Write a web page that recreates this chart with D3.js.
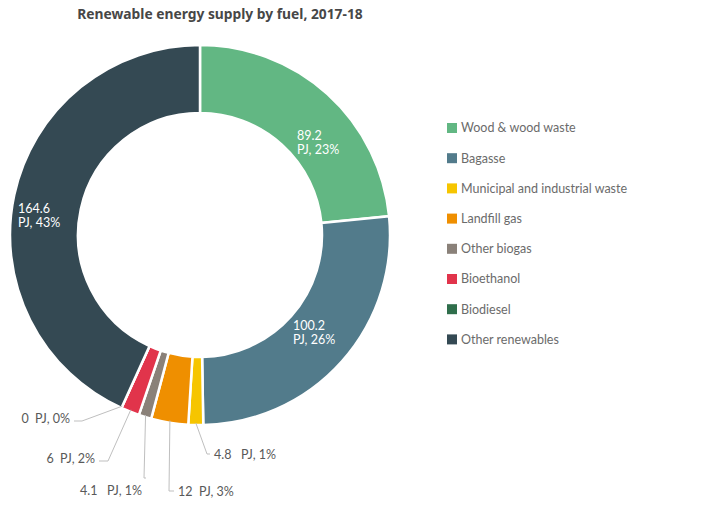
<!DOCTYPE html>
<html>
<head>
<meta charset="utf-8">
<script src="https://cdn.jsdelivr.net/npm/d3@7"></script>
<style>
  body { margin: 0; background: #fff; }
  text { white-space: pre; }
</style>
</head>
<body>
<div id="chart"></div>
<script>
const fuels = ["Wood & wood waste", "Bagasse", "Municipal and industrial waste", "Landfill gas",
  "Other biogas", "Bioethanol", "Biodiesel", "Other renewables"];
const supplyPJ = [89.2, 100.2, 4.8, 12, 4.1, 6, 0, 164.6];
const fuelColors = ["#62b783", "#527b8b", "#f6c500", "#ef8f00", "#8a8179", "#e1344b", "#2f6e4b", "#344953"];

// label layout (relative to the donut centre)
const innerLabel = { 0: [97, -95], 1: [93, 95], 7: [-182, -22] };
const outerLabel = {
  2: { elbow: [7, 219], text: [14, 220], anchor: "start", gap: "   " },
  3: { elbow: [-31, 256], text: [-22, 257], anchor: "start", gap: "  " },
  4: { elbow: [-56, 243], text: [-58, 256], anchor: "end", gap: "   " },
  5: { elbow: [-92, 226], text: [-105, 224], anchor: "end", gap: "  " },
  6: { elbow: [-118, 186], text: [-130, 184], anchor: "end", gap: "  " }
};

const W = 703, H = 525;
const cx = 200, cy = 235, R = 190, r0 = 122;
const total = d3.sum(supplyPJ);

const svg = d3.select("#chart").append("svg")
  .attr("width", W)
  .attr("height", H)
  .style("font-family", "Lato, 'Open Sans', sans-serif");

svg.append("text")
  .attr("x", 220)
  .attr("y", 19)
  .attr("text-anchor", "middle")
  .attr("font-family", "'Noto Sans', sans-serif")
  .attr("font-weight", "bold")
  .attr("font-size", 13.8)
  .attr("fill", "#474747")
  .text("Renewable energy supply by fuel, 2017-18");

const g = svg.append("g").attr("transform", `translate(${cx},${cy})`);

const pie = d3.pie().sort(null).value(d => d);
const arcs = pie(supplyPJ);
const arc = d3.arc().innerRadius(r0).outerRadius(R);

g.selectAll("path")
  .data(arcs)
  .enter()
  .append("path")
  .attr("d", arc)
  .attr("fill", (d, i) => fuelColors[i])
  .attr("stroke", "#fff")
  .attr("stroke-width", 2.5);

const pct = v => Math.round(v / total * 100) + "%";

// labels inside the big slices
Object.keys(innerLabel).forEach(k => {
  const i = +k, p = innerLabel[k];
  const t = g.append("text")
    .attr("x", p[0])
    .attr("y", p[1])
    .attr("fill", "#fff")
    .attr("font-size", 12.5);
  t.append("tspan").attr("x", p[0]).text(supplyPJ[i]);
  t.append("tspan").attr("x", p[0]).attr("dy", 14).text("PJ, " + pct(supplyPJ[i]));
});

// leader lines for the small slices
Object.keys(outerLabel).forEach(k => {
  const i = +k, o = outerLabel[k];
  const a = (arcs[i].startAngle + arcs[i].endAngle) / 2;
  const sx = (R - 2) * Math.sin(a), sy = -(R - 2) * Math.cos(a);
  const hx = o.anchor === "start" ? o.text[0] - 4 : o.text[0] + 4;
  g.append("polyline")
    .attr("points", [[sx, sy], o.elbow, [hx, o.elbow[1]]].join(" "))
    .attr("fill", "none")
    .attr("stroke", "#bfbfbf")
    .attr("stroke-width", 1);
  g.append("text")
    .attr("x", o.text[0])
    .attr("y", o.text[1])
    .attr("dy", "0.35em")
    .attr("text-anchor", o.anchor)
    .attr("fill", "#595959")
    .attr("font-size", 12.5)
    .text(supplyPJ[i] + o.gap + "PJ, " + pct(supplyPJ[i]));
});

// legend
const legend = svg.append("g").attr("transform", "translate(447,123)");
const item = legend.selectAll("g")
  .data(fuels)
  .enter()
  .append("g")
  .attr("transform", (d, i) => `translate(0,${i * 30.2})`);

item.append("rect")
  .attr("width", 10)
  .attr("height", 10)
  .attr("fill", (d, i) => fuelColors[i]);

item.append("text")
  .attr("x", 14)
  .attr("y", 5)
  .attr("dy", "0.35em")
  .attr("fill", "#6b6b6b")
  .attr("font-size", 12.5)
  .text(d => d);
</script>
</body>
</html>
